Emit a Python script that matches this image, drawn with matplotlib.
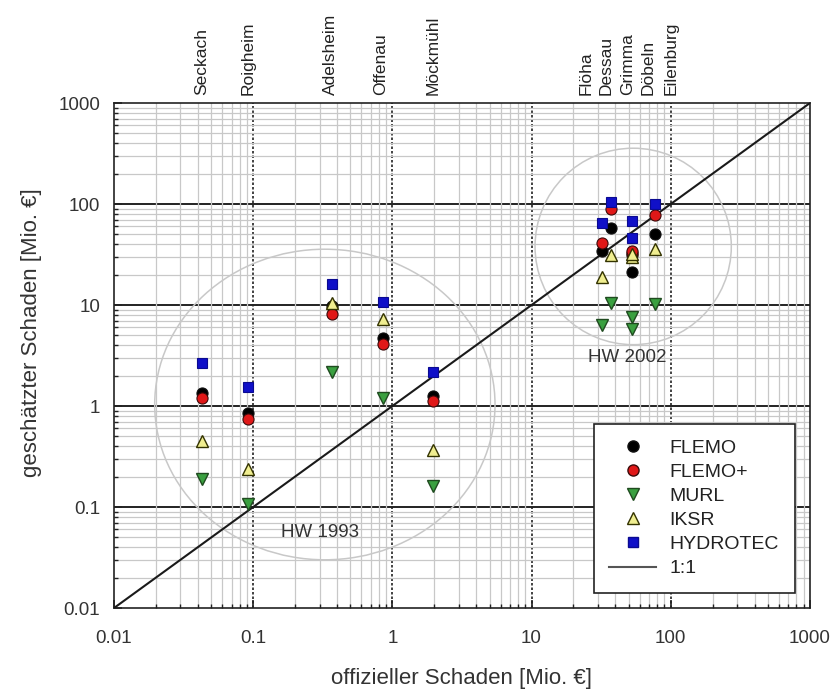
import matplotlib
matplotlib.use('Agg')
import matplotlib.pyplot as plt
from matplotlib.patches import Ellipse
from matplotlib.lines import Line2D
import matplotlib.ticker as ticker
import matplotlib.transforms as mtransforms
import numpy as np

plt.rcParams['font.family'] = ['Liberation Sans', 'DejaVu Sans']

# stations (top labels) and official damage
stations = ['Seckach', 'Roigheim', 'Adelsheim', 'Offenau', 'Möckmühl',
            'Flöha', 'Dessau', 'Grimma', 'Döbeln', 'Eilenburg']
official = [0.043, 0.092, 0.37, 0.85, 1.95, 32, 37.5, 53, 53, 77]
label_x = [0.043, 0.092, 0.36, 0.83, 1.95, 24.7, 34.4, 48.6, 68.8, 100]

# estimated damage per model
flemo = [1.35, 0.85, 9.8, 4.7, 1.26, 34, 58, 21, 31, 50]
flemo_plus = [1.2, 0.74, 8.2, 4.1, 1.12, 41, 90, 33, 34, 78]
murl = [0.19, 0.107, 2.17, 1.2, 0.16, 6.3, 10.5, 5.8, 7.6, 10.3]
iksr = [0.45, 0.24, 10.5, 7.3, 0.37, 19, 31, 30, 32, 36]
hydrotec = [2.67, 1.54, 16.2, 10.8, 2.17, 65, 105, 68, 46, 100]

ticks = [0.01, 0.1, 1, 10, 100, 1000]
tick_labels = ['0.01', '0.1', '1', '10', '100', '1000']

fig = plt.figure(figsize=(8.35, 6.9), dpi=100)
ax = fig.add_axes([0.1365, 0.1188, 0.8335, 0.7319])
ax.set_xscale('log')
ax.set_yscale('log')
ax.set_xlim(0.01, 1000)
ax.set_ylim(0.01, 1000)

# grid
ax.xaxis.set_minor_locator(ticker.LogLocator(base=10, subs=np.arange(2, 10)))
ax.yaxis.set_minor_locator(ticker.LogLocator(base=10, subs=np.arange(2, 10)))
ax.grid(which='minor', axis='both', color='#c8c8c8', lw=0.9, zorder=0)
for v in ticks[1:-1]:
    ax.axhline(v, color='#222222', lw=1.4, zorder=1)
    ax.axvline(v, color='#222222', lw=1.2, ls=(0, (1.5, 1.2)), zorder=1)

ax.set_xticks(ticks)
ax.set_xticklabels(tick_labels)
ax.set_yticks(ticks)
ax.set_yticklabels(tick_labels)
ax.tick_params(which='both', direction='in', colors='#222222', labelsize=13.5,
               labelcolor='#333333')
ax.tick_params(which='major', length=6, width=1.2, pad=10)
ax.tick_params(axis='x', which='major', pad=16)
ax.tick_params(which='minor', length=3, width=1)
for s in ax.spines.values():
    s.set_linewidth(1.2)
    s.set_color('#222222')

# flood event circles
ax.add_patch(Ellipse((0.303, 0.403), 0.489, 0.615, transform=ax.transAxes,
                     fill=False, ec='#c8c8c8', lw=1.1, zorder=2))
ax.add_patch(Ellipse((0.746, 0.716), 0.282, 0.389, transform=ax.transAxes,
                     fill=False, ec='#c8c8c8', lw=1.1, zorder=2))
ax.text(0.296, 0.15, 'HW 1993', transform=ax.transAxes, ha='center', va='center',
        fontsize=13.5, color='#333333', zorder=3)
ax.text(0.737, 0.496, 'HW 2002', transform=ax.transAxes, ha='center', va='center',
        fontsize=13.5, color='#333333', zorder=3)

# 1:1 line
ax.plot([0.01, 1000], [0.01, 1000], color='#1a1a1a', lw=1.5, zorder=3)

ms = 8
ax.plot(official, flemo, 'o', ms=ms, mfc='black', mec='#111111', mew=0.8, zorder=4)
ax.plot(official, flemo_plus, 'o', ms=ms, mfc='#e01818', mec='#3a0a0a', mew=0.8, zorder=5)
ax.plot(official, murl, 'v', ms=ms, mfc='#3aa040', mec='#1f4a1f', mew=1.0, zorder=6)
ax.plot(official, iksr, '^', ms=ms, mfc='#f0ee90', mec='#333300', mew=1.0, zorder=7)
ax.plot(official, hydrotec, 's', ms=7.5, mfc='#1010c8', mec='#0a0a90', mew=0.8, zorder=8)

# station names above the plot
trans = mtransforms.blended_transform_factory(ax.transData, ax.transAxes)
for name, xv in zip(stations, label_x):
    ax.text(xv, 1.016, name, transform=trans, rotation=90, ha='center', va='bottom',
            fontsize=12.5, color='#222222')

ax.set_xlabel('offizieller Schaden [Mio. €]', fontsize=16, color='#333333')
ax.set_ylabel('geschätzter Schaden [Mio. €]', fontsize=16, color='#333333')
ax.xaxis.set_label_coords(0.5, -0.118)
ax.yaxis.set_label_coords(-0.103, 0.545)

handles = [
    Line2D([], [], ls='', marker='o', ms=ms, mfc='black', mec='#111111'),
    Line2D([], [], ls='', marker='o', ms=ms, mfc='#e01818', mec='#3a0a0a'),
    Line2D([], [], ls='', marker='v', ms=ms, mfc='#3aa040', mec='#1f4a1f'),
    Line2D([], [], ls='', marker='^', ms=ms, mfc='#f0ee90', mec='#333300'),
    Line2D([], [], ls='', marker='s', ms=7.5, mfc='#1010c8', mec='#0a0a90'),
    Line2D([], [], color='#555555', lw=1.5),
]
labels = ['FLEMO', 'FLEMO+', 'MURL', 'IKSR', 'HYDROTEC', '1:1']
leg = ax.legend(handles, labels, loc='lower right', bbox_to_anchor=(0.978, 0.03),
                fontsize=14, frameon=True, fancybox=False, framealpha=1,
                edgecolor='#222222', handlelength=2.4, labelspacing=0.33,
                borderpad=0.8, handletextpad=0.7, borderaxespad=0)
leg.get_frame().set_linewidth(1.2)
leg.set_zorder(10)
for t in leg.get_texts():
    t.set_color('#222222')

fig.savefig('out.png', dpi=100)
